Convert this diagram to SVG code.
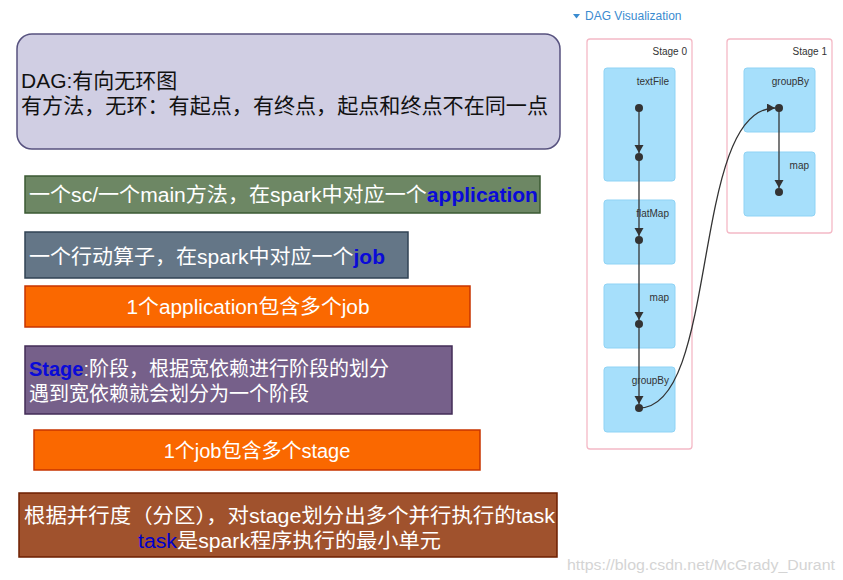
<svg xmlns="http://www.w3.org/2000/svg" width="843" height="580" viewBox="0 0 843 580">
<style>
.t{font-family:"Liberation Sans","Noto Sans CJK SC",sans-serif;}
.w{fill:#ffffff;font-size:20px;}
.b{fill:#0a0ad8;font-weight:bold;}
.stage{fill:#ffffff;stroke:#f4b9c6;stroke-width:1.3;}
.rdd{fill:#a6dffb;stroke:#8fd3f5;stroke-width:1;}
.lbl{font-family:"Liberation Sans",Arial,sans-serif;font-size:10px;fill:#333333;text-anchor:end;}
.dot{fill:#333333;}
.edge{fill:none;stroke:#333333;stroke-width:1.3;marker-end:url(#ah);}
</style>
<defs>
<marker id="ah" markerUnits="userSpaceOnUse" markerWidth="10" markerHeight="10" refX="8" refY="4.5" orient="auto">
<path d="M0,0 L8,4.5 L0,9 z" fill="#333333"/>
</marker>
</defs>
<rect width="843" height="580" fill="#ffffff"/>

<g id="dag-def">
<rect x="17" y="34" width="543" height="115" rx="15" fill="#d0cee3" stroke="#57527f" stroke-width="1.5"/>
<text class="t" x="21" y="88" font-size="21" fill="#111111">DAG:有向无环图</text>
<text class="t" x="21" y="113" font-size="21" fill="#111111" textLength="527" lengthAdjust="spacingAndGlyphs">有方法，无环：有起点，有终点，起点和终点不在同一点</text>
</g>

<g id="application">
<rect x="25" y="176" width="515" height="37" fill="#6d8764" stroke="#3b5a33" stroke-width="1.5"/>
<text class="t w" x="29" y="202" font-size="21" textLength="509" lengthAdjust="spacingAndGlyphs">一个sc/一个main方法，在spark中对应一个<tspan class="b">application</tspan></text>
</g>

<g id="job">
<rect x="25" y="232" width="383" height="46" fill="#647687" stroke="#314354" stroke-width="1.5"/>
<text class="t w" x="29" y="264" textLength="356" lengthAdjust="spacingAndGlyphs">一个行动算子，在spark中对应一个<tspan class="b">job</tspan></text>
</g>

<g id="app-jobs">
<rect x="25" y="286" width="445" height="41" fill="#fa6800" stroke="#c73500" stroke-width="1.5"/>
<text class="t w" x="248" y="314" text-anchor="middle" textLength="243" lengthAdjust="spacingAndGlyphs">1个application包含多个job</text>
</g>

<g id="stage">
<rect x="25" y="346" width="427" height="68" fill="#76608a" stroke="#432d57" stroke-width="1.5"/>
<text class="t w" x="29" y="376"><tspan class="b">Stage</tspan>:阶段，根据宽依赖进行阶段的划分</text>
<text class="t w" x="29" y="401">遇到宽依赖就会划分为一个阶段</text>
</g>

<g id="job-stages">
<rect x="34" y="430" width="446" height="40" fill="#fa6800" stroke="#c73500" stroke-width="1.5"/>
<text class="t w" x="257" y="458" text-anchor="middle">1个job包含多个stage</text>
</g>

<g id="task">
<rect x="19" y="493" width="538" height="64" fill="#a0522d" stroke="#6d1f00" stroke-width="1.5"/>
<text class="t w" x="24" y="523" font-size="22" textLength="531" lengthAdjust="spacingAndGlyphs">根据并行度（分区），对stage划分出多个并行执行的task</text>
<text class="t w" x="138" y="548" font-size="22" textLength="303" lengthAdjust="spacingAndGlyphs"><tspan class="b" style="fill:#0000cc;font-weight:normal">task</tspan>是spark程序执行的最小单元</text>
</g>

<g id="dag-title">
<path d="M573,14 L580,14 L576.5,18.5 z" fill="#3a8bd0"/>
<text x="585" y="20" font-family="Liberation Sans, Arial, sans-serif" font-size="12" fill="#3a8bd0">DAG Visualization</text>
</g>

<g id="stage0">
<rect class="stage" x="587" y="39" width="105" height="410" rx="3"/>
<text class="lbl" x="687" y="55">Stage 0</text>
</g>
<g id="stage1">
<rect class="stage" x="727" y="39" width="105" height="194" rx="3"/>
<text class="lbl" x="827" y="55">Stage 1</text>
</g>

<g id="textFile">
<rect class="rdd" x="604" y="68" width="71" height="113" rx="3"/>
<text class="lbl" x="669" y="85">textFile</text>
</g>
<g id="flatMap">
<rect class="rdd" x="604" y="200" width="71" height="64" rx="3"/>
<text class="lbl" x="669" y="217">flatMap</text>
</g>
<g id="map0">
<rect class="rdd" x="604" y="284" width="71" height="64" rx="3"/>
<text class="lbl" x="669" y="301">map</text>
</g>
<g id="groupBy0">
<rect class="rdd" x="604" y="367" width="71" height="65" rx="3"/>
<text class="lbl" x="669" y="384">groupBy</text>
</g>
<g id="groupBy1">
<rect class="rdd" x="744" y="68" width="71" height="64" rx="3"/>
<text class="lbl" x="809" y="85">groupBy</text>
</g>
<g id="map1">
<rect class="rdd" x="744" y="152" width="71" height="64" rx="3"/>
<text class="lbl" x="809" y="169">map</text>
</g>

<g id="connectors">
<line class="edge" x1="639" y1="108" x2="639" y2="153"/>
<line class="edge" x1="639" y1="157" x2="639" y2="236"/>
<line class="edge" x1="639" y1="240" x2="639" y2="320"/>
<line class="edge" x1="639" y1="324" x2="639" y2="404"/>
<line class="edge" x1="779" y1="108" x2="779" y2="188"/>
<path class="edge" d="M639,408 C720,408 690,108 775,108"/>
</g>

<g id="dots">
<circle class="dot" cx="639" cy="108" r="4"/>
<circle class="dot" cx="639" cy="157" r="4"/>
<circle class="dot" cx="639" cy="240" r="4"/>
<circle class="dot" cx="639" cy="324" r="4"/>
<circle class="dot" cx="639" cy="408" r="4"/>
<circle class="dot" cx="779" cy="108" r="4"/>
<circle class="dot" cx="779" cy="192" r="4"/>
</g>

<text x="567" y="570" font-family="Liberation Sans, Arial, sans-serif" font-size="14" fill="#d4d4d4" textLength="268" lengthAdjust="spacingAndGlyphs">https://blog.csdn.net/McGrady_Durant</text>
</svg>
